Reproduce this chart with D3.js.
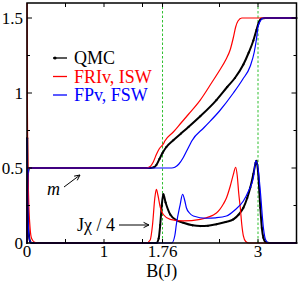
<!DOCTYPE html>
<html>
<head>
<meta charset="utf-8">
<script src="https://cdn.jsdelivr.net/npm/d3@7"></script>
<style>
body { margin:0; background:#fff; }
</style>
</head>
<body>
<div id="graph"></div>
<script>
// magnetisation curves [B, m]
var qmcM = [[0,0],[0.004,0.25],[0.012,0.46],[0.03,0.5],[1.6,0.5],[1.65,0.505],[1.68,0.52],[1.72,0.56],[1.76,0.6],[1.81,0.64],[1.9,0.685],[2.0,0.73],[2.1,0.775],[2.25,0.845],[2.46,0.953],[2.6,1.04],[2.7,1.1],[2.81,1.19],[2.88,1.27],[2.94,1.35],[2.98,1.42],[3.01,1.47],[3.04,1.495],[3.1,1.5],[3.5,1.5]];
var friM = [[0,0],[0.004,0.3],[0.012,0.48],[0.03,0.5],[1.55,0.5],[1.6,0.51],[1.64,0.54],[1.68,0.59],[1.72,0.63],[1.77,0.66],[1.79,0.68],[1.9,0.74],[2.0,0.8],[2.1,0.86],[2.25,0.953],[2.4,1.07],[2.5,1.15],[2.58,1.22],[2.64,1.29],[2.68,1.37],[2.71,1.44],[2.74,1.48],[2.79,1.5],[3.5,1.5]];
var fpM = [[0,0],[0.004,0.25],[0.012,0.46],[0.03,0.5],[1.88,0.5],[1.92,0.505],[1.97,0.525],[2.03,0.57],[2.08,0.62],[2.12,0.66],[2.14,0.68],[2.3,0.77],[2.5,0.88],[2.68,1.0],[2.8,1.09],[2.9,1.18],[2.95,1.27],[2.98,1.36],[3.0,1.44],[3.03,1.48],[3.07,1.5],[3.5,1.5]];

// susceptibility J chi / 4 [B, chi]
var qmcChi = [[0.003,0.7],[0.008,0.35],[0.015,0.15],[0.025,0.05],[0.04,0.01],[0.06,0],[1.68,0],[1.71,0.03],[1.73,0.12],[1.75,0.25],[1.77,0.325],[1.8,0.27],[1.86,0.19],[1.95,0.15],[2.03,0.135],[2.15,0.118],[2.25,0.113],[2.35,0.115],[2.46,0.125],[2.58,0.14],[2.68,0.158],[2.75,0.19],[2.81,0.235],[2.86,0.3],[2.9,0.37],[2.94,0.46],[2.97,0.535],[2.98,0.547],[3.0,0.48],[3.03,0.235],[3.05,0.1],[3.07,0.035],[3.1,0.005],[3.15,0],[3.5,0]];
var friChi = [[0.001,1.6],[0.005,0.9],[0.01,0.6],[0.02,0.32],[0.04,0.1],[0.06,0.03],[0.1,0.005],[0.15,0],[1.55,0],[1.6,0.02],[1.63,0.12],[1.66,0.3],[1.68,0.358],[1.7,0.32],[1.73,0.24],[1.77,0.19],[1.86,0.158],[2.03,0.147],[2.25,0.158],[2.46,0.2],[2.55,0.26],[2.59,0.3],[2.64,0.38],[2.68,0.457],[2.71,0.505],[2.73,0.45],[2.75,0.33],[2.77,0.235],[2.79,0.12],[2.81,0.047],[2.84,0.01],[2.88,0],[3.5,0]];
var fpChi = [[0.003,0.7],[0.008,0.35],[0.015,0.15],[0.025,0.05],[0.04,0.01],[0.06,0],[1.88,0],[1.92,0.05],[1.94,0.125],[1.99,0.258],[2.02,0.325],[2.05,0.28],[2.07,0.235],[2.11,0.2],[2.16,0.18],[2.33,0.165],[2.45,0.168],[2.59,0.18],[2.7,0.22],[2.81,0.28],[2.88,0.35],[2.94,0.435],[2.97,0.547],[3.0,0.5],[3.03,0.347],[3.07,0.102],[3.1,0.02],[3.14,0],[3.5,0]];

var xTicks = [0.5, 1, 1.5, 1.76, 2.5, 3];
var xLabels = [0, 1, 1.76, 3];
var yTicks = [0.25, 0.5, 0.75, 1, 1.25, 1.5];
var yLabels = [0, 0.5, 1, 1.5];
var vLines = [1.76, 3];
var legendNames = ["QMC", "FRIv, ISW", "FPv, FSW"];
var legendColors = ["black", "red", "blue"];

var FONT = "Liberation Serif";

var svg = d3.select("#graph").append("svg")
    .attr("width", 299)
    .attr("height", 282);

var x = d3.scaleLinear().domain([0, 3.5]).range([27, 296.5]);
var y = d3.scaleLinear().domain([0, 1.6]).range([243, 3]);

// dashed guide lines
svg.selectAll("line.guide").data(vLines).enter().append("line")
    .attr("class", "guide")
    .attr("x1", function(d) { return x(d); })
    .attr("x2", function(d) { return x(d); })
    .attr("y1", y(0)).attr("y2", y(1.6))
    .style("stroke", "#2fbf2f")
    .style("stroke-width", 1)
    .style("stroke-dasharray", "2.5,2");

var line = d3.line()
    .x(function(d) { return x(d[0]); })
    .y(function(d) { return y(d[1]); })
    .curve(d3.curveMonotoneX);

function curve(data, color, w) {
  svg.append("path").datum(data)
    .attr("d", line)
    .style("fill", "none")
    .style("stroke", color)
    .style("stroke-width", w);
}

curve(qmcM, "black", 2);
curve(qmcChi, "black", 2);
svg.selectAll("circle.qmc").data(qmcM.concat(qmcChi)).enter().append("circle")
    .attr("class", "qmc")
    .attr("cx", function(d) { return x(d[0]); })
    .attr("cy", function(d) { return y(d[1]); })
    .attr("r", 1.1)
    .style("fill", "black");
curve(friM, "red", 1.2);
curve(friChi, "red", 1.2);
curve(fpM, "blue", 1.2);
curve(fpChi, "blue", 1.2);

// frame
svg.append("rect")
    .attr("x", x(0)).attr("y", y(1.6))
    .attr("width", x(3.5) - x(0)).attr("height", y(0) - y(1.6))
    .style("fill", "none").style("stroke", "black").style("stroke-width", 1.5);

// ticks on all four sides
svg.selectAll("line.xt").data(xTicks).enter().append("line")
    .attr("class", "xt")
    .attr("x1", function(d) { return x(d); }).attr("x2", function(d) { return x(d); })
    .attr("y1", y(0)).attr("y2", y(0) - 4)
    .style("stroke", "black");
svg.selectAll("line.xt2").data(xTicks).enter().append("line")
    .attr("class", "xt2")
    .attr("x1", function(d) { return x(d); }).attr("x2", function(d) { return x(d); })
    .attr("y1", y(1.6)).attr("y2", y(1.6) + 4)
    .style("stroke", "black");
svg.selectAll("line.yt").data(yTicks).enter().append("line")
    .attr("class", "yt")
    .attr("x1", x(0)).attr("x2", function(d) { return x(0) + (d % 0.5 == 0 ? 5 : 3); })
    .attr("y1", function(d) { return y(d); }).attr("y2", function(d) { return y(d); })
    .style("stroke", "black");
svg.selectAll("line.yt2").data(yTicks).enter().append("line")
    .attr("class", "yt2")
    .attr("x1", x(3.5)).attr("x2", function(d) { return x(3.5) - (d % 0.5 == 0 ? 5 : 3); })
    .attr("y1", function(d) { return y(d); }).attr("y2", function(d) { return y(d); })
    .style("stroke", "black");

svg.selectAll("text.xl").data(xLabels).enter().append("text")
    .attr("class", "xl")
    .attr("x", function(d) { return x(d); })
    .attr("y", 257)
    .attr("text-anchor", "middle")
    .attr("font-family", FONT)
    .attr("font-size", "17px")
    .text(function(d) { return d; });
svg.selectAll("text.yl").data(yLabels).enter().append("text")
    .attr("class", "yl")
    .attr("x", 23)
    .attr("y", function(d) { return y(d) + 6; })
    .attr("text-anchor", "end")
    .attr("font-family", FONT)
    .attr("font-size", "17px")
    .text(function(d) { return d; });

svg.append("text")
    .attr("x", (x(0) + x(3.5)) / 2).attr("y", 277)
    .attr("text-anchor", "middle")
    .attr("font-family", FONT)
    .attr("font-size", "18px")
    .text("B(J)");

// legend
var lg = svg.selectAll("g.leg").data(legendNames).enter().append("g")
    .attr("class", "leg")
    .attr("transform", function(d, i) { return "translate(0," + (58 + i * 18.5) + ")"; });
lg.append("line")
    .attr("x1", 53).attr("x2", 67).attr("y1", 0).attr("y2", 0)
    .style("stroke", function(d, i) { return legendColors[i]; })
    .style("stroke-width", 1.3);
lg.append("text")
    .attr("x", 74).attr("y", 6)
    .attr("font-family", FONT)
    .attr("font-size", "18px")
    .attr("fill", function(d, i) { return legendColors[i]; })
    .text(function(d) { return d; });
svg.append("circle").attr("cx", 55).attr("cy", 58).attr("r", 1.6).style("fill", "black");

// annotations
function arrow(x1, y1, x2, y2) {
  var a = Math.atan2(y2 - y1, x2 - x1), h = 6;
  svg.append("path")
    .attr("d", "M" + x1 + "," + y1 + "L" + x2 + "," + y2 +
      "M" + (x2 - h * Math.cos(a - 0.45)) + "," + (y2 - h * Math.sin(a - 0.45)) +
      "L" + x2 + "," + y2 +
      "L" + (x2 - h * Math.cos(a + 0.45)) + "," + (y2 - h * Math.sin(a + 0.45)))
    .style("fill", "none").style("stroke", "black").style("stroke-width", 1);
}
svg.append("text")
    .attr("x", 47).attr("y", 195)
    .attr("font-family", FONT)
    .attr("font-size", "18px").attr("font-style", "italic")
    .text("m");
arrow(64, 187, 80, 175);
svg.append("text")
    .attr("x", 77).attr("y", 231)
    .attr("font-family", FONT)
    .attr("font-size", "18px")
    .text("Jχ / 4");
arrow(119, 225, 149, 225);
</script>
</body>
</html>
